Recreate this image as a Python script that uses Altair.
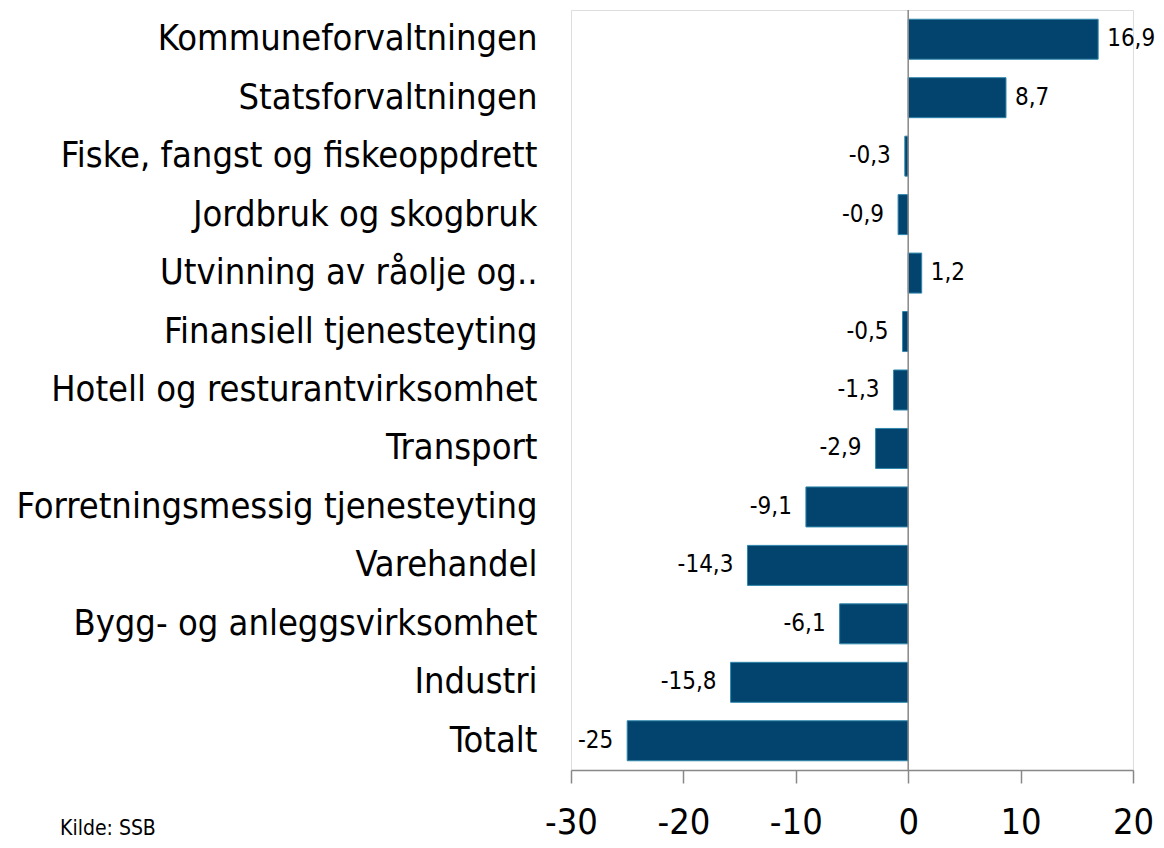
import altair as alt
import pandas as pd

categories = [
    "Kommuneforvaltningen",
    "Statsforvaltningen",
    "Fiske, fangst og fiskeoppdrett",
    "Jordbruk og skogbruk",
    "Utvinning av råolje og..",
    "Finansiell tjenesteyting",
    "Hotell og resturantvirksomhet",
    "Transport",
    "Forretningsmessig tjenesteyting",
    "Varehandel",
    "Bygg- og anleggsvirksomhet",
    "Industri",
    "Totalt",
]
values = [16.9, 8.7, -0.3, -0.9, 1.2, -0.5, -1.3, -2.9, -9.1, -14.3, -6.1, -15.8, -25]
x_ticks = [-30, -20, -10, 0, 10, 20]

df = pd.DataFrame({"kategori": categories, "verdi": values})

FONT = "DejaVu Sans Condensed"
BAR = "#02446d"

base = alt.Chart(df).transform_calculate(
    lab="replace('' + datum.verdi, '.', ',')"
)

y_enc = alt.Y(
    "kategori:N",
    sort=categories,
    title=None,
    scale=alt.Scale(paddingInner=0.316, paddingOuter=0.158),
    axis=alt.Axis(
        domain=False,
        ticks=False,
        labelFont=FONT,
        labelFontSize=36,
        labelColor="#000000",
        labelPadding=34,
        labelLimit=600,
    ),
)

x_enc = alt.X(
    "verdi:Q",
    title=None,
    scale=alt.Scale(domain=[-30, 20], nice=False),
    axis=alt.Axis(
        values=x_ticks,
        grid=False,
        domainColor="#888888",
        domainWidth=1.5,
        tickColor="#888888",
        tickSize=13,
        tickWidth=1.5,
        labelFont=FONT,
        labelFontSize=36,
        labelColor="#000000",
        labelPadding=22,
        labelExpr="'' + datum.value",
        labelFlush=False,
    ),
)

bars = base.mark_bar(color=BAR, stroke="#2f86ad", strokeWidth=1).encode(
    x=x_enc, y=y_enc
)

zero = alt.Chart(pd.DataFrame({"z": [0]})).mark_rule(
    color="#888888", strokeWidth=1.5
).encode(x="z:Q")

pos_text = base.transform_filter("datum.verdi >= 0").mark_text(
    align="left", baseline="middle", dx=9, font=FONT, fontSize=24, color="#000000"
).encode(x="verdi:Q", y=alt.Y("kategori:N", sort=categories), text="lab:N")

neg_text = base.transform_filter("datum.verdi < 0").mark_text(
    align="right", baseline="middle", dx=-14, font=FONT, fontSize=24, color="#000000"
).encode(x="verdi:Q", y=alt.Y("kategori:N", sort=categories), text="lab:N")

source = alt.Chart(pd.DataFrame({"t": ["Kilde: SSB"]})).mark_text(
    align="left", baseline="middle", font=FONT, fontSize=21, color="#000000"
).encode(x=alt.value(-511), y=alt.value(819), text="t:N")

chart = (
    alt.layer(bars, zero, pos_text, neg_text, source)
    .properties(
        width=562,
        height=760,
        padding={"left": 563, "top": 2, "right": 22, "bottom": 70},
        autosize=alt.AutoSizeParams(type="none"),
    )
    .configure_view(fill="#e8ecf4", stroke=None)
    .configure(background="#ffffff")
)

chart.save("out.html", embed_options={"renderer": "svg", "actions": False})
